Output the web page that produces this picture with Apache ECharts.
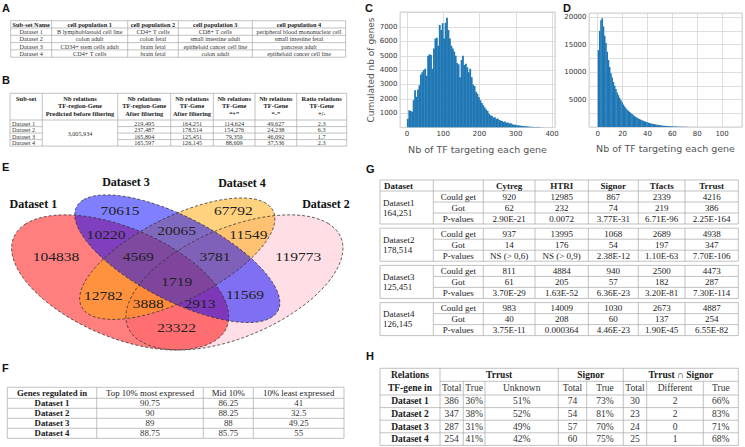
<!DOCTYPE html>
<html><head><meta charset="utf-8">
<script src="https://cdn.jsdelivr.net/npm/echarts@6/dist/echarts.min.js"></script>
<style>html,body{margin:0;padding:0;background:#fff}#c{width:745px;height:447px}</style>
</head><body><div id="c"></div>
<script>
// ================= DATA =================
// Panel C histogram (bin width 4, counts)
const cBinWidth = 4;
const cCounts = [600,1200,1150,1100,1900,2600,2150,2650,2950,3700,3850,4000,4100,3600,5000,5100,5050,4100,5500,6200,
  6250,5700,7150,6800,7270,6200,7300,7650,6800,6200,5700,5500,5300,5000,4500,4400,3500,4700,5000,4350,
  4450,4200,3850,4100,3500,3000,2900,2500,2350,2100,1900,1700,1550,1400,1250,1150,950,850,800,700,
  720,600,620,520,480,450,380,420,330,350,280,300,220,200,190,160,150,140,130,110,
  100,90,85,70,60,55,50,40,35,30,45,20,15,10,8,5];
// Panel D histogram (bin width 1)
const dBinWidth = 1;
const dCounts = [14000,17500,19450,19800,18300,16600,15300,13700,12200,10900,9800,9000,8200,7500,6900,6300,5800,5300,4900,4500,
  4100,3750,3400,3150,2950,2750,2550,2350,2150,1980,1820,1680,1560,1440,1330,1230,1130,1040,960,880,
  800,730,670,610,560,510,460,420,380,340,310,280,250,225,200,180,160,145,130,115,
  100,90,80,70,62,55,48,42,36,31,27,23,20,17,14,12,10,9,8,7,6,5,4,4,3,3,2,2,2,1,1,1,1,1,1,1,0,1,0,1];
const histXName = 'Nb of TF targeting each gene';
const histYName = 'Cumulated nb of genes';

// Panel A
const tableAHeader = ['Sub-set Name','cell population 1','cell population 2','cell population 3','cell population 4'];
const tableARows = [
  ['Dataset 1','B lymphoblastoid cell line','CD4+ T cells','CD8+ T cells','peripheral blood mononuclear cell'],
  ['Dataset 2','colon adult','colon fetal','small intestine adult','small intestine fetal'],
  ['Dataset 3','CD34+ stem cells adult','brain fetal','epitheloid cancer cell line','pancreas adult'],
  ['Dataset 4','CD4+ T cells','brain fetal','colon adult','epitheloid cancer cell line']];

// Panel B
const tableBHeader = [['Sub-set'],['Nb relations','TF-region-Gene','Predicted before filtering'],['Nb relations','TF-region-Gene','After filtering'],
  ['Nb relations','TF-Gene','After filtering'],['Nb relations','TF-Gene','\u201C+\u201D'],['Nb relations','TF-Gene','\u201C-\u201D'],['Ratio relations','TF-Gene','+/-']];
const tableBDatasets = ['Dataset 1','Dataset 2','Dataset 3','Dataset 4'];
const tableBPredicted = '3,005,934';
const tableBAfterRegion = ['219,495','237,487','165,804','165,597'];
const tableBAfterGene = ['164,251','178,514','125,451','126,145'];
const tableBPlus = ['114,624','154,276','79,359','88,609'];
const tableBMinus = ['49,627','24,238','46,092','37,536'];
const tableBRatio = ['2.3','6.3','1.7','2.3'];

// Panel E (Venn)
const vennSetNames = ['Dataset 1','Dataset 2','Dataset 3','Dataset 4'];
const vennRegions = ['1','3','4','2','1&3','3&4','2&4','1&3&4','2&3&4','1&2&3&4','1&4','2&3','1&2&4','1&2&3','1&2'];
const vennCounts = [104838,70615,67792,119773,10220,20065,11549,4569,3781,1719,12782,11569,3888,2913,23322];

// Panel F
const tableFHeader = ['Genes regulated in','Top 10% most expressed','Mid 10%','10% least expressed'];
const tableFDatasets = ['Dataset 1','Dataset 2','Dataset 3','Dataset 4'];
const tableFTop = ['90.75','90','89','88.75'];
const tableFMid = ['86.25','88.25','88','85.75'];
const tableFLeast = ['41','32.5','49.25','55'];

// Panel G
const gSources = ['Cytreg','HTRI','Signor','Tfacts','Trrust'];
const gDatasets = ['Dataset1','Dataset2','Dataset3','Dataset4'];
const gSizes = ['164,251','178,514','125,451','126,145'];
const gRowNames = ['Could get','Got','P-values'];
const gCouldGet = [[920,12985,867,2339,4216],[937,13995,1068,2689,4938],[811,4884,940,2500,4473],[983,14009,1030,2673,4887]];
const gGot = [[62,232,74,219,386],[14,176,54,197,347],[61,205,57,182,287],[40,208,60,137,254]];
const gPvalues = [['2.90E-21','0.0072','3.77E-31','6.71E-96','2.25E-164'],['NS (> 0,6)','NS (> 0,9)','2.38E-12','1.10E-63','7.70E-106'],
  ['3.70E-29','1.63E-52','6.36E-23','3.20E-81','7.30E-114'],['3.75E-11','0.000364','4.46E-23','1.90E-45','6.55E-82']];

// Panel H
const hGroups = ['Trrust','Signor','Trrust \u2229 Signor'];
const hSubHeads = ['Total','True','Unknown','Total','True','Total','Different','True'];
const hDatasets = ['Dataset 1','Dataset 2','Dataset 3','Dataset 4'];
const hTrrustTotal = ['386','347','287','254'];
const hTrrustTrue = ['36%','38%','31%','41%'];
const hTrrustUnknown = ['51%','52%','49%','42%'];
const hSignorTotal = ['74','54','57','60'];
const hSignorTrue = ['73%','81%','70%','75%'];
const hBothTotal = ['30','23','24','25'];
const hBothDifferent = ['2','2','0','1'];
const hBothTrue = ['66%','83%','71%','68%'];

// ================= DRAWING =================
const SERIF = '"Liberation Serif","DejaVu Serif",serif';
const SANS = '"Liberation Sans","DejaVu Sans",sans-serif';
const EL = [];
function txt(x, y, s, o) {
  o = o || {};
  const a = o.align || 'center', v = o.valign || 'middle';
  EL.push({type:'text', x:x, y:y, scaleX:o.sx||1, rotation:o.rot||0, z:o.z||30, silent:true,
    style:{text:String(s), fill:o.color||'#1a1a1a', font:(o.bold?'bold ':'')+(o.size||9)+'px '+(o.family||SERIF),
      align:a, verticalAlign:v, textAlign:a, textVerticalAlign:v}});
}
function ln(x1, y1, x2, y2, o) {
  o = o || {};
  EL.push({type:'line', z:20, silent:true, shape:{x1:x1,y1:y1,x2:x2,y2:y2}, style:{stroke:o.color||'#a8a8a8', lineWidth:o.w||0.7}});
}
function panelLetter(x, y, s) { txt(x, y, s, {family:SANS, bold:true, size:11, align:'left', valign:'top', color:'#111'}); }

// ---- Panel A ----
panelLetter(2, 2, 'A');
(function(){
  const xs = [10.7, 51.7, 127.7, 178.3, 252.3, 345.7];
  const ys = [20.7, 28, 35.3, 42.6, 49.9, 57.2];
  ys.forEach(y => ln(xs[0], y, xs[xs.length-1], y));
  xs.forEach(x => ln(x, ys[0], x, ys[ys.length-1]));
  tableAHeader.forEach((h,i) => txt((xs[i]+xs[i+1])/2, (ys[0]+ys[1])/2, h, {bold:true, size:6.3}));
  tableARows.forEach((r,j) => r.forEach((c,i) => txt((xs[i]+xs[i+1])/2, (ys[j+1]+ys[j+2])/2, c, {size:6.2, color:'#333'})));
})();

// ---- Panel B ----
panelLetter(2, 74, 'B');
(function(){
  const xs = [10, 42.3, 117.7, 170.7, 213.3, 255, 296.7, 346.7];
  const top = 93.3, hb = 120, rows = [120, 126.6, 133.1, 139.6, 146.1];
  ln(xs[0], top, xs[7], top); ln(xs[0], hb, xs[7], hb); ln(xs[0], rows[4], xs[7], rows[4]);
  for (let k = 1; k < 4; k++) { ln(xs[0], rows[k], xs[1], rows[k]); ln(xs[2], rows[k], xs[7], rows[k]); }
  xs.forEach(x => ln(x, top, x, rows[4]));
  const hy = [98.4, 105.8, 113.2];
  tableBHeader.forEach((lines,i) => lines.forEach((t,k) => txt((xs[i]+xs[i+1])/2, hy[k], t, {bold:true, size:6.4})));
  const cols = [tableBAfterRegion, tableBAfterGene, tableBPlus, tableBMinus, tableBRatio];
  tableBDatasets.forEach((d,j) => {
    const cy = (rows[j]+rows[j+1])/2;
    txt(xs[0]+2, cy, d, {size:6.2, align:'left', color:'#333'});
    cols.forEach((col,i) => txt((xs[i+2]+xs[i+3])/2, cy, col[j], {size:6.2, color:'#333'}));
  });
  txt((xs[1]+xs[2])/2, (rows[0]+rows[4])/2, tableBPredicted, {size:6.2, color:'#333'});
})();

// ---- Panel E : Venn ----
panelLetter(2, 161, 'E');
(function(){
  const sx = 380.8, sy = 237, X0 = -13.1, Y0 = 393.8;
  const ell = [ // VennDiagram quad layout (unit square), order of drawing: 2,1,4,3
    {cu:0.65, cv:0.47, a:0.35, b:0.20, rot:45,  fill:'rgba(255,192,203,0.5)'},
    {cu:0.35, cv:0.47, a:0.35, b:0.20, rot:135, fill:'rgba(255,0,0,0.5)'},
    {cu:0.50, cv:0.57, a:0.33, b:0.15, rot:45,  fill:'rgba(255,165,0,0.5)'},
    {cu:0.50, cv:0.57, a:0.35, b:0.15, rot:135, fill:'rgba(0,0,255,0.5)'}];
  const polys = ell.map(e => {
    const th = e.rot*Math.PI/180, pts = [];
    for (let k = 0; k < 144; k++) {
      const t = 2*Math.PI*k/144;
      const u = e.cu + e.a*Math.cos(t)*Math.cos(th) - e.b*Math.sin(t)*Math.sin(th);
      const v = e.cv + e.a*Math.cos(t)*Math.sin(th) + e.b*Math.sin(t)*Math.cos(th);
      pts.push([X0 + u*sx, Y0 - v*sy]);
    }
    return pts;
  });
  polys.forEach((p,i) => EL.push({type:'polygon', z:10, silent:true, shape:{points:p}, style:{fill:ell[i].fill, stroke:null}}));
  polys.forEach(p => EL.push({type:'polygon', z:11, silent:true, shape:{points:p}, style:{fill:null, stroke:'#333', lineWidth:0.8, lineDash:[3,2]}}));
  const pos = [[56,256],[120,210],[233.3,210],[298.3,256],[106,234.3],[176.7,230],[248.3,234.3],[138.3,256],[215,256],
    [176.7,281.7],[103.3,295],[245,294.3],[148.3,303.3],[200,303.3],[176.7,327.7]];
  vennCounts.forEach((c,i) => txt(pos[i][0], pos[i][1], c, {size:13.5, sx:1.15, color:'#222'}));
  const lp = [[33.3,204.3],[326,204.3],[126,182.3],[242,183.3]];
  vennSetNames.forEach((n,i) => txt(lp[i][0], lp[i][1], n, {size:12, bold:true, color:'#111'}));
})();

// ---- Panel F ----
panelLetter(2, 362, 'F');
(function(){
  const xs = [7.3, 96.7, 203.3, 253.3, 344];
  const ys = [387.3, 398.3, 408.3, 418.3, 428.3, 438.3];
  ys.forEach(y => ln(xs[0], y, xs[4], y));
  xs.forEach(x => ln(x, ys[0], x, ys[5]));
  tableFHeader.forEach((h,i) => txt((xs[i]+xs[i+1])/2, (ys[0]+ys[1])/2, h, {bold:i===0, size:8.8}));
  const cols = [tableFTop, tableFMid, tableFLeast];
  tableFDatasets.forEach((d,j) => {
    const cy = (ys[j+1]+ys[j+2])/2;
    txt((xs[0]+xs[1])/2, cy, d, {bold:true, size:8.8});
    cols.forEach((col,i) => txt((xs[i+1]+xs[i+2])/2, cy, col[j], {size:8.8, color:'#333'}));
  });
})();

// ---- Panel G ----
panelLetter(366, 163, 'G');
(function(){
  const xs = [380, 433.3, 483.3, 535, 588.3, 638.3, 685, 738.3];
  const htop = 180, hb = 191, rh = 11, pitch = 37.2;
  ln(xs[0], htop, xs[7], htop);
  xs.forEach(x => ln(x, htop, x, hb));
  txt(xs[0]+4, (htop+hb)/2, 'Dataset', {bold:true, size:9, align:'left'});
  gSources.forEach((s,i) => txt((xs[i+2]+xs[i+3])/2, (htop+hb)/2, s, {bold:true, size:9}));
  gDatasets.forEach((d,b) => {
    const t = hb + b*pitch, bot = t + 3*rh;
    ln(xs[0], t, xs[7], t); ln(xs[0], bot, xs[7], bot);
    ln(xs[1], t+rh, xs[7], t+rh); ln(xs[1], t+2*rh, xs[7], t+2*rh);
    xs.forEach(x => ln(x, t, x, bot));
    txt(xs[0]+3, t+1.5*rh-5, d, {size:9, align:'left'});
    txt(xs[0]+3, t+1.5*rh+5, gSizes[b], {size:9, align:'left'});
    const vals = [gCouldGet[b], gGot[b], gPvalues[b]];
    gRowNames.forEach((rn,r) => {
      const cy = t + (r+0.5)*rh;
      txt((xs[1]+xs[2])/2, cy, rn, {size:9});
      vals[r].forEach((v,i) => txt((xs[i+2]+xs[i+3])/2, cy, v, {size:9}));
    });
  });
})();

// ---- Panel H ----
panelLetter(366, 350, 'H');
(function(){
  const xs = [380, 440, 463.3, 485, 558.3, 586.7, 623.3, 646.7, 703.3, 738.3];
  const ys = [368.3, 381.3, 395, 407.6, 420.2, 432.8, 445.4];
  ln(xs[0], ys[0], xs[9], ys[0]);
  ln(xs[1], ys[1], xs[9], ys[1]);
  for (let k = 2; k < ys.length; k++) ln(xs[0], ys[k], xs[9], ys[k]);
  [0,1,4,6,9].forEach(i => ln(xs[i], ys[0], xs[i], ys[6]));
  [2,3,5,7,8].forEach(i => ln(xs[i], ys[1], xs[i], ys[6]));
  txt((xs[0]+xs[1])/2, (ys[0]+ys[1])/2, 'Relations', {bold:true, size:9.5});
  txt((xs[0]+xs[1])/2, (ys[1]+ys[2])/2, 'TF-gene in', {bold:true, size:9.5});
  const gspan = [[1,4],[4,6],[6,9]];
  hGroups.forEach((g,i) => txt((xs[gspan[i][0]]+xs[gspan[i][1]])/2, (ys[0]+ys[1])/2, g, {bold:true, size:9.5}));
  hSubHeads.forEach((h,i) => txt((xs[i+1]+xs[i+2])/2, (ys[1]+ys[2])/2, h, {size:9.5, color:'#333'}));
  const cols = [hTrrustTotal, hTrrustTrue, hTrrustUnknown, hSignorTotal, hSignorTrue, hBothTotal, hBothDifferent, hBothTrue];
  hDatasets.forEach((d,j) => {
    const cy = (ys[j+2]+ys[j+3])/2;
    txt((xs[0]+xs[1])/2, cy, d, {bold:true, size:9.5});
    cols.forEach((col,i) => txt((xs[i+1]+xs[i+2])/2, cy, col[j], {size:9.5, color:'#333'}));
  });
})();

// ---- Panels C & D : histograms ----
panelLetter(365, 2, 'C');
panelLetter(563, 2, 'D');
txt(371, 70, histYName, {family:'"DejaVu Sans",sans-serif', size:9, rot:Math.PI/2, color:'#555'});

function binData(counts, w) { return counts.map((c,i) => [i*w, (i+1)*w, c]); }
function histSeries(idx, data) {
  return {type:'custom', xAxisIndex:idx, yAxisIndex:idx, clip:true, silent:true,
    encode:{x:[0,1], y:2}, data:data,
    renderItem: function(params, api) {
      const p0 = api.coord([api.value(0), 0]);
      const p1 = api.coord([api.value(1), api.value(2)]);
      return {type:'rect', shape:{x:p0[0], y:p1[1], width:p1[0]-p0[0]+0.35, height:p0[1]-p1[1]},
        style:{fill:'#1f77b4'}};
    }};
}
const axisFont = {fontSize:7, color:'#333', fontFamily:'"DejaVu Sans",sans-serif'};
const gridStyle = {show:true, lineStyle:{color:'#d6d6d6', width:0.8}};
function xAx(idx, min, max, step) {
  return {gridIndex:idx, type:'value', min:min, max:max, minInterval:step, maxInterval:step, splitNumber:5,
    name:histXName, nameLocation:'middle', nameGap:16.5,
    nameTextStyle:{fontSize:9.5, color:'#555', fontFamily:'"DejaVu Sans",sans-serif'},
    axisLine:{show:false}, axisTick:{show:false}, splitLine:gridStyle,
    axisLabel:Object.assign({margin:3, formatter: v => (Math.abs(v % step) < 1e-6 ? String(v) : '')}, axisFont)};
}
function yAx(idx, max, step, labelStep, labelMax) {
  return {gridIndex:idx, type:'value', min:0, max:max, interval:step,
    axisLine:{show:false}, axisTick:{show:false}, splitLine:gridStyle,
    axisLabel:Object.assign({margin:2.5, formatter: v => (v > 0 && v <= labelMax && v % labelStep === 0 ? String(v) : '')}, axisFont)};
}
const option = {
  animation:false,
  backgroundColor:'#fff',
  grid:[
    {left:400, top:12, width:155, height:115.5, show:true, borderColor:'#c8c8c8', borderWidth:0.8},
    {left:589, top:13, width:155, height:114, show:true, borderColor:'#c8c8c8', borderWidth:0.8}],
  xAxis:[xAx(0, -19, 408, 100), xAx(1, -7, 116, 20)],
  yAxis:[yAx(0, 8050, 1000, 1000, 7000), yAx(1, 20750, 2500, 5000, 20000)],
  series:[histSeries(0, binData(cCounts, cBinWidth)), histSeries(1, binData(dCounts, dBinWidth))],
  graphic:{elements:EL}
};
const chart = echarts.init(document.getElementById('c'), null, {renderer:'svg', width:745, height:447});
chart.setOption(option);
</script></body></html>
